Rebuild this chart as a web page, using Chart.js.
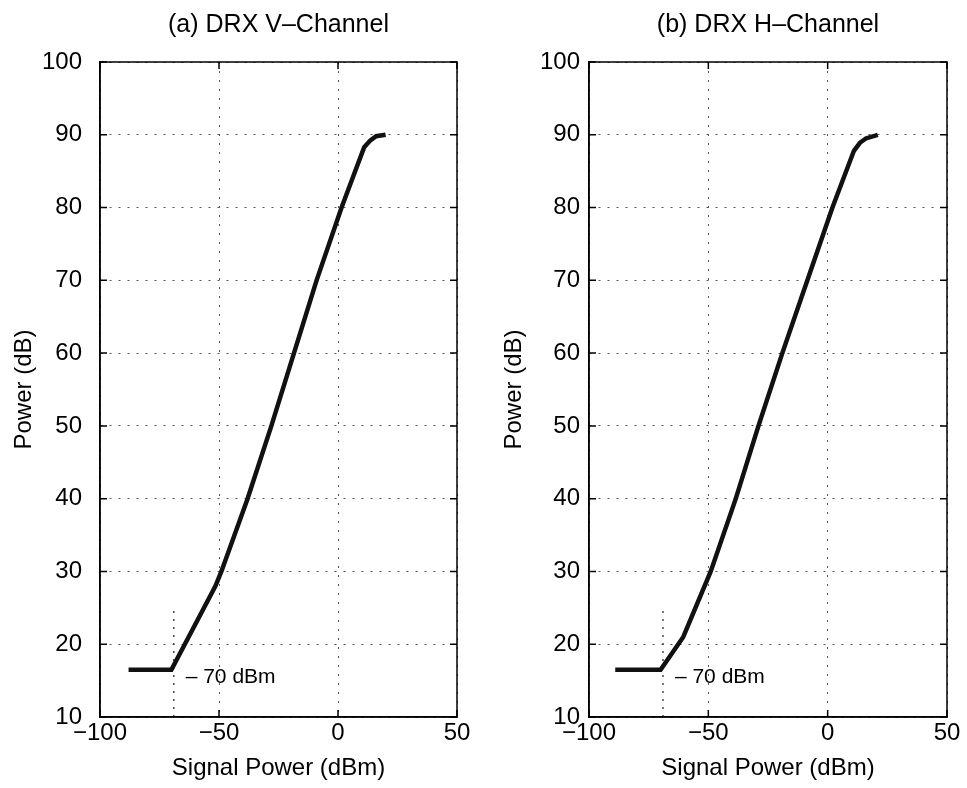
<!DOCTYPE html>
<html lang="en">
<head>
  <meta charset="UTF-8">
  <title>DRX Channel Power</title>
  <script src="https://cdn.jsdelivr.net/npm/chart.js"></script>
  <style>
    body {
      margin: 0;
      background-color: white;
    }

    .panel {
      position: absolute;
      top: 0;
    }
  </style>
</head>
<body>
  <div class="panel" style="left: 0px;"><canvas id="chartV" width="480" height="788"></canvas></div>
  <div class="panel" style="left: 480px;"><canvas id="chartH" width="487" height="788"></canvas></div>

  <script>
    // values
    const vSignal = [-88, -70, -51.5, -49, -38, -28, -18.5, -9, 1.5, 11, 13.5, 16, 20];
    const vPower  = [16.5, 16.5, 28, 30, 40, 50, 60, 70, 80, 88.3, 89.2, 89.8, 90];
    const hSignal = [-89, -70, -60.5, -49, -38.5, -29, -19, -8.5, 2, 11, 13.5, 16, 21];
    const hPower  = [16.5, 16.5, 21, 30, 40, 50, 60, 70, 80, 87.8, 88.9, 89.5, 90];

    const markerSignal = [-69, -69];
    const markerPower = [10, 25];
    const noteSignal = -64;
    const notePower = 15.5;
    const noteText = "\u2013 70 dBm";

    const xTicks = [-100, -50, 0, 50];
    const yTicks = [10, 20, 30, 40, 50, 60, 70, 80, 90, 100];

    const FONT = "'Liberation Sans', Arial, sans-serif";

    function toPoints(xs, ys) {
      return xs.map((x, i) => ({ x: x, y: ys[i] }));
    }

    // solid box, inward tick marks and the -70 dBm note
    const framePlugin = {
      id: "frame",
      afterDatasetsDraw(chart) {
        const { ctx, chartArea: a, scales } = chart;
        ctx.save();
        ctx.setLineDash([]);
        ctx.strokeStyle = "#000";
        ctx.lineWidth = 1.5;
        ctx.strokeRect(a.left, a.top, a.right - a.left, a.bottom - a.top);
        ctx.beginPath();
        xTicks.forEach(v => {
          const px = scales.x.getPixelForValue(v);
          ctx.moveTo(px, a.bottom); ctx.lineTo(px, a.bottom - 7);
          ctx.moveTo(px, a.top); ctx.lineTo(px, a.top + 7);
        });
        yTicks.forEach(v => {
          const py = scales.y.getPixelForValue(v);
          ctx.moveTo(a.left, py); ctx.lineTo(a.left + 7, py);
          ctx.moveTo(a.right, py); ctx.lineTo(a.right - 7, py);
        });
        ctx.stroke();

        ctx.fillStyle = "#000";
        ctx.font = "21px " + FONT;
        ctx.textAlign = "left";
        ctx.textBaseline = "middle";
        ctx.fillText(noteText, scales.x.getPixelForValue(noteSignal), scales.y.getPixelForValue(notePower));
        ctx.restore();
      }
    };

    function makeChart(id, title, xs, ys, opts) {
      const ctx = document.getElementById(id).getContext("2d");
      return new Chart(ctx, {
        type: "line",
        data: {
          datasets: [
            {
              data: toPoints(xs, ys),
              borderColor: "#111",
              borderWidth: 4.5,
              pointRadius: 0,
              tension: 0
            },
            {
              data: toPoints(markerSignal, markerPower),
              borderColor: "#444",
              borderWidth: 1.5,
              borderDash: [2, 6],
              pointRadius: 0
            }
          ]
        },
        options: {
          responsive: false,
          animation: false,
          layout: { padding: { left: 0, right: opts.padRight, top: 0, bottom: 0 } },
          plugins: {
            legend: { display: false },
            tooltip: { enabled: false },
            title: {
              display: true,
              text: title,
              fullSize: false,
              color: "#000",
              font: { family: FONT, size: 25, weight: "normal" },
              padding: { top: 10, bottom: 22 }
            }
          },
          scales: {
            x: {
              type: "linear",
              min: -100,
              max: 50,
              afterBuildTicks: s => { s.ticks = xTicks.map(v => ({ value: v })); },
              afterFit: s => { s.height = 71; },
              ticks: {
                color: "#000",
                padding: 2,
                font: { family: FONT, size: 24 },
                callback: v => String(v).replace("-", "\u2212")
              },
              grid: { color: "#555", drawTicks: false, lineWidth: 1 },
              border: { display: true, color: "#000", width: 1.5, dash: [2, 7] },
              title: {
                display: true,
                text: "Signal Power (dBm)",
                color: "#000",
                font: { family: FONT, size: 24 },
                padding: { top: 0, bottom: 5 }
              }
            },
            y: {
              min: 10,
              max: 100,
              afterBuildTicks: s => { s.ticks = yTicks.map(v => ({ value: v })); },
              afterFit: s => { s.width = opts.yWidth; },
              ticks: {
                color: "#000",
                padding: opts.yTickPad,
                font: { family: FONT, size: 24 }
              },
              grid: { color: "#555", drawTicks: false, lineWidth: 1 },
              border: { display: true, color: "#000", width: 1.5, dash: [2, 7] },
              title: {
                display: true,
                text: "Power (dB)",
                color: "#000",
                font: { family: FONT, size: 24 },
                padding: { top: opts.yTitlePad, bottom: 0 }
              }
            }
          }
        },
        plugins: [framePlugin]
      });
    }

    makeChart("chartV", "(a) DRX V\u2013Channel", vSignal, vPower,
      { padRight: 23, yWidth: 100, yTickPad: 18, yTitlePad: 10 });
    makeChart("chartH", "(b) DRX H\u2013Channel", hSignal, hPower,
      { padRight: 20, yWidth: 109, yTickPad: 9, yTitlePad: 20 });
  </script>
</body>
</html>
